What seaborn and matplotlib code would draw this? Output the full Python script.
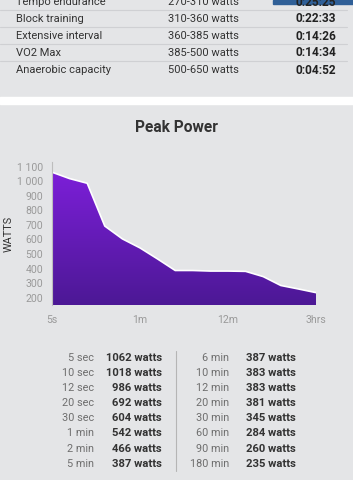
import numpy as np
import matplotlib
matplotlib.use("Agg")
import matplotlib.pyplot as plt
import seaborn as sns
import pandas as pd
from matplotlib.patches import Polygon, Rectangle

# data
durations = ["5 sec", "10 sec", "12 sec", "20 sec", "30 sec", "1 min", "2 min", "5 min",
             "6 min", "10 min", "12 min", "20 min", "30 min", "60 min", "90 min", "180 min"]
watts = [1062, 1018, 986, 692, 604, 542, 466, 387,
         387, 383, 383, 381, 345, 284, 260, 235]
tick_idx = [0, 5, 10, 15]
tick_labels = ["5s", "1m", "12m", "3hrs"]

zone_names = ["Tempo endurance", "Block training", "Extensive interval", "VO2 Max", "Anaerobic capacity"]
zone_ranges = ["270-310 watts", "310-360 watts", "360-385 watts", "385-500 watts", "500-650 watts"]
zone_times = ["0:25:25", "0:22:33", "0:14:26", "0:14:34", "0:04:52"]

sns.set_style("white")
plt.rcParams['font.family'] = ['Roboto', 'DejaVu Sans']

bg = "#e4e5e7"
fig = plt.figure(figsize=(3.53, 4.80), dpi=100, facecolor=bg)
H = 480.0
W = 353.0

def fy(py):
    return 1 - py / H

# top card (zone table), cut at the top edge like the screenshot
fig.patches.append(Rectangle((273 / W, fy(3.5)), 80 / W, 3.5 / H, transform=fig.transFigure,
                             color="#2f5f97", zorder=0))
for py in [10, 27, 44, 61]:
    fig.add_artist(plt.Line2D([0, 347 / W], [fy(py), fy(py)], color="#cfd0d3", lw=0.8))
row_y = [2, 19, 36, 52.5, 70]
for name, rng, t, py in zip(zone_names, zone_ranges, zone_times, row_y):
    fig.text(16 / W, fy(py), name, fontsize=8, color="#333333", va="center")
    fig.text(168 / W, fy(py), rng, fontsize=8, color="#333333", va="center")
    fig.text(336 / W, fy(py), t, fontsize=8.6, color="#222222", va="center", ha="right",
             fontweight="bold")

# white separator band
fig.patches.append(Rectangle((0, fy(104)), 1, 7.5 / H, transform=fig.transFigure,
                             color="white", zorder=0))

fig.text(0.5, fy(128), "Peak Power", fontsize=11.2, fontweight="bold", color="#333333",
         ha="center", va="center")

# chart
ax = fig.add_axes([52 / W, fy(305), (316 - 52) / W, (305 - 162) / H])
ax.set_facecolor(bg)
df = pd.DataFrame({"i": np.arange(len(watts)), "w": watts})
ymin, ymax = 150, 1132

grad = np.linspace(0, 1, 256).reshape(-1, 1)
cmap = matplotlib.colors.LinearSegmentedColormap.from_list("pp", ["#4c1895", "#7c1fd8"])
img = ax.imshow(grad, cmap=cmap, aspect="auto", origin="lower",
                extent=[0, len(watts) - 1, ymin, max(watts)], zorder=1)
verts = [(0, ymin)] + list(zip(df["i"], df["w"])) + [(len(watts) - 1, ymin)]
clip = Polygon(verts, closed=True, transform=ax.transData, facecolor="none", edgecolor="none")
ax.add_patch(clip)
img.set_clip_path(clip)
sns.lineplot(data=df, x="i", y="w", color="white", lw=1.2, ax=ax, zorder=2)

ax.set_xlim(0, len(watts) - 1)
ax.set_ylim(ymin, ymax)
ax.set_yticks(range(200, 1101, 100))
ax.set_yticklabels(["200", "300", "400", "500", "600", "700", "800", "900", "1 000", "1 100"])
ax.set_xticks(tick_idx)
ax.set_xticklabels(tick_labels)
ax.tick_params(axis="both", length=0, labelsize=7.6, labelcolor="#9a9a9a")
ax.tick_params(axis="x", pad=7)
ax.tick_params(axis="y", pad=6.5)
for s in ["top", "right", "bottom"]:
    ax.spines[s].set_visible(False)
ax.spines["left"].set_color("#bdbdbd")
ax.spines["left"].set_linewidth(0.8)
ax.set_xlabel("")
ax.set_ylabel("WATTS", fontsize=7.8, color="#333333", labelpad=2)

# peak power table
row_py = [358 + 15.1 * k for k in range(8)]
for k in range(8):
    py = row_py[k]
    fig.text(94 / W, fy(py), durations[k], fontsize=7.8, color="#6e6e6e", ha="right", va="center")
    fig.text(162 / W, fy(py), f"{watts[k]} watts", fontsize=8.1, color="#333333", ha="right",
             va="center", fontweight="bold")
    fig.text(229 / W, fy(py), durations[k + 8], fontsize=7.8, color="#6e6e6e", ha="right", va="center")
    fig.text(296 / W, fy(py), f"{watts[k + 8]} watts", fontsize=8.1, color="#333333", ha="right",
             va="center", fontweight="bold")
fig.add_artist(plt.Line2D([176 / W, 176 / W], [fy(351), fy(471)], color="#b5b5b5", lw=0.8))

fig.savefig("out.png", dpi=100, facecolor=bg)
